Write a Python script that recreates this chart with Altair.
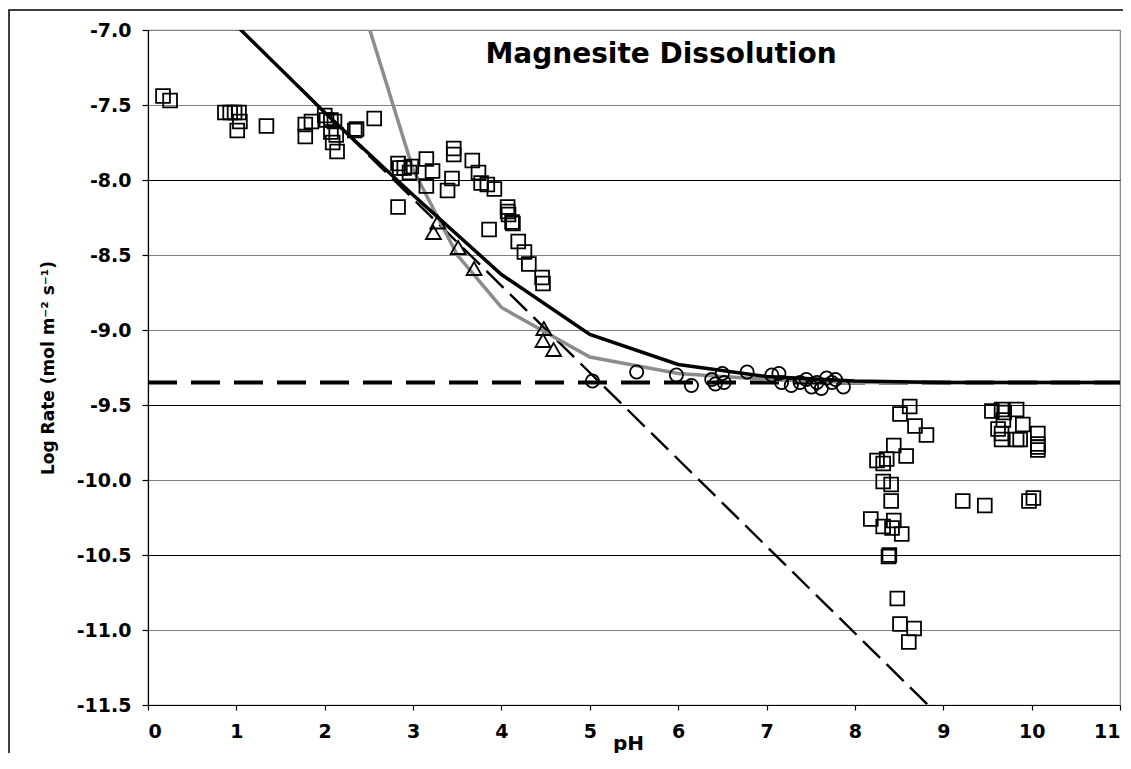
import altair as alt
import pandas as pd

# ---------------- data ----------------
square_ph = [0.17, 0.25, 0.87, 0.93, 0.98, 1.03, 1.04, 1.01, 1.34, 1.78, 1.78, 1.85,
             2.00, 2.02, 2.07, 2.11, 2.07, 2.13, 2.09, 2.14, 2.34, 2.36, 2.56,
             2.83, 2.85, 2.90, 2.98, 2.96, 2.83, 3.15, 3.22, 3.15, 3.39, 3.44, 3.46, 3.46,
             3.67, 3.74, 3.77, 3.84, 3.92, 3.86, 4.07, 4.07, 4.08, 4.12, 4.13, 4.19, 4.26,
             4.31, 4.46, 4.47,
             8.62, 8.51, 8.68, 8.81, 8.44, 8.58, 8.25, 8.36, 8.32, 8.32, 8.41, 8.41, 8.18,
             8.32, 8.44, 8.42, 8.53, 8.38, 8.39, 8.48, 8.51, 8.67, 8.61,
             9.55, 9.66, 9.69, 9.83, 9.68, 9.62, 9.66, 9.66, 9.90, 9.83, 9.87, 10.07, 10.07,
             10.07, 10.07, 9.22, 9.47, 9.97, 10.02]
square_rate = [-7.44, -7.47, -7.55, -7.55, -7.55, -7.55, -7.61, -7.67, -7.64, -7.63, -7.71, -7.61,
               -7.57, -7.60, -7.60, -7.61, -7.68, -7.70, -7.75, -7.81, -7.67, -7.66, -7.59,
               -7.89, -7.92, -7.92, -7.91, -7.95, -8.18, -7.86, -7.94, -8.04, -8.07, -7.99, -7.79, -7.83,
               -7.87, -7.95, -8.02, -8.03, -8.06, -8.33, -8.18, -8.21, -8.23, -8.28, -8.29, -8.41, -8.48,
               -8.56, -8.65, -8.69,
               -9.51, -9.56, -9.64, -9.70, -9.77, -9.84, -9.87, -9.86, -9.89, -10.01, -10.03, -10.14, -10.26,
               -10.31, -10.27, -10.32, -10.36, -10.51, -10.50, -10.79, -10.96, -10.99, -11.08,
               -9.54, -9.53, -9.55, -9.53, -9.60, -9.66, -9.69, -9.73, -9.63, -9.73, -9.73, -9.69, -9.76,
               -9.78, -9.80, -10.14, -10.17, -10.14, -10.12]

circle_ph = [5.03, 5.53, 5.98, 6.15, 6.38, 6.42, 6.50, 6.52, 6.78, 7.06, 7.14, 7.17, 7.28,
             7.38, 7.45, 7.51, 7.57, 7.62, 7.68, 7.74, 7.78, 7.87]
circle_rate = [-9.34, -9.28, -9.30, -9.37, -9.33, -9.36, -9.29, -9.35, -9.28, -9.30, -9.29, -9.35, -9.37,
               -9.35, -9.33, -9.38, -9.35, -9.39, -9.32, -9.35, -9.33, -9.38]

triangle_ph = [3.28, 3.23, 3.51, 3.69, 4.48, 4.47, 4.59]
triangle_rate = [-8.28, -8.35, -8.45, -8.59, -8.99, -9.07, -9.13]

# model curves
total_ph = [1.0, 2.0, 3.0, 4.0, 5.0, 6.0, 7.0, 8.0, 9.0, 10.0, 11.0]
total_rate = [-6.97, -7.55, -8.10, -8.63, -9.03, -9.23, -9.31, -9.34, -9.35, -9.35, -9.35]

gray_ph = [2.5, 3.0, 3.5, 4.0, 5.0, 6.0, 7.0, 8.0, 9.0, 10.0, 11.0]
gray_rate = [-6.98, -7.93, -8.50, -8.85, -9.18, -9.29, -9.33, -9.35, -9.35, -9.35, -9.35]

acid_ph = [0.9, 9.0]
acid_rate = [-6.91, -11.60]

const_ph = [0.0, 11.0]
const_rate = [-9.35, -9.35]

y_ticks = [-11.5, -11.0, -10.5, -10.0, -9.5, -9.0, -8.5, -8.0, -7.5, -7.0]
x_ticks = list(range(0, 12))

# ---------------- chart ----------------
W, H = 972, 675
FONT = "DejaVu Sans"

xs = alt.Scale(domain=[0, 11], nice=False, zero=False)
ys = alt.Scale(domain=[-11.5, -7.0], nice=False, zero=False)

grid_color = {"condition": {"test": "datum.value == -8 || datum.value == -9.5 || datum.value == -10.5",
                            "value": "#000000"},
              "value": "#808080"}

x_axis = alt.Axis(values=x_ticks, format="d", grid=False, tickSize=5, labelPadding=12,
                  labelFontSize=19, title="pH", titleFontSize=20, titleX=480, titleY=44,
                  titleBaseline="alphabetic", titleAlign="center",
                  labelExpr="replace(datum.label, '\u2212', '-')")
y_axis = alt.Axis(values=y_ticks, format=".1f", grid=True, gridColor=grid_color, gridWidth=1,
                  tickSize=6, labelPadding=11, labelFontSize=19,
                  title="Log Rate (mol m\u207b\u00b2 s\u207b\u00b9)", titleFontSize=17,
                  titleX=-100, titleY=H / 2, titleBaseline="middle", titleAlign="center",
                  labelExpr="replace(datum.label, '\u2212', '-')")

def xy_enc():
    return dict(x=alt.X("ph:Q", scale=xs, axis=x_axis),
                y=alt.Y("rate:Q", scale=ys, axis=y_axis))

def df(ph, rate):
    return pd.DataFrame({"ph": ph, "rate": rate})

const_line = alt.Chart(df(const_ph, const_rate)).mark_line(
    color="black", strokeWidth=4, strokeDash=[29, 14], clip=True).encode(**xy_enc())

acid_line = alt.Chart(df(acid_ph, acid_rate)).mark_line(
    color="black", strokeWidth=2.4, strokeDash=[24, 9], clip=True).encode(**xy_enc())

gray_line = alt.Chart(df(gray_ph, gray_rate)).mark_line(
    color="#8c8c8c", strokeWidth=3.5, clip=True).encode(**xy_enc())

total_line = alt.Chart(df(total_ph, total_rate)).mark_line(
    color="black", strokeWidth=3.5, clip=True).encode(**xy_enc())

squares = alt.Chart(df(square_ph, square_rate)).mark_point(
    shape="square", filled=False, color="black", strokeWidth=1.8, size=190, opacity=1).encode(**xy_enc())

circles = alt.Chart(df(circle_ph, circle_rate)).mark_point(
    shape="circle", filled=False, color="black", strokeWidth=1.8, size=175, opacity=1).encode(**xy_enc())

triangles = alt.Chart(df(triangle_ph, triangle_rate)).mark_point(
    shape="triangle-up", filled=False, color="black", strokeWidth=1.8, size=225, opacity=1).encode(**xy_enc())

title_text = alt.Chart(pd.DataFrame({"t": ["Magnesite Dissolution"]})).mark_text(
    font=FONT, fontWeight="bold", fontSize=28, color="black", align="center", baseline="middle"
).encode(text="t:N", x=alt.value(513), y=alt.value(25))

one = pd.DataFrame({"a": [0]})
frame = alt.Chart(one).mark_rect(
    fill="transparent", stroke="black", strokeWidth=1.5, clip=False
).encode(
    x=alt.value(-139), x2=alt.value(W + 30),
    y=alt.value(-20), y2=alt.value(H + 80),
)

chart = alt.layer(
    const_line, acid_line, gray_line, total_line, squares, circles, triangles,
    title_text, frame
).properties(
    width=W, height=H,
    autosize=alt.AutoSizeParams(type="none"),
    padding={"left": 140, "top": 22, "right": 3, "bottom": 48},
    background="white",
).configure_axis(
    labelFont=FONT, labelFontWeight="bold", labelColor="black",
    titleFont=FONT, titleFontWeight="bold", titleColor="black",
    domainColor="black", domainWidth=1.2, tickColor="black", tickWidth=1.2,
).configure_view(
    stroke="#808080", strokeWidth=1.2
)

chart.save("out.html", embed_options={"renderer": "svg", "actions": False})
